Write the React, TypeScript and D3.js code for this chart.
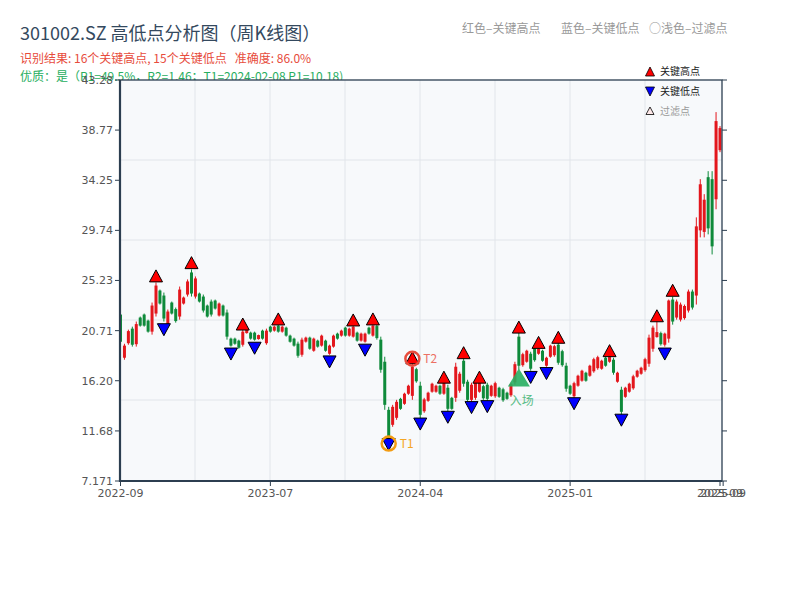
import React from 'react'
import * as d3 from 'd3'

// weekly candles (price units)
const open = [
  22.16, 18.27, 19.58, 20.89, 19.49, 21.89, 22.16, 21.61, 20.62, 22.25,
  24.32, 23.87, 21.25, 23.24, 22.65, 21.98, 23.15, 23.96, 25.95, 23.78,
  24.05, 23.78, 22.97, 23.33, 23.42, 22.07, 22.97, 22.34, 19.99, 19.99,
  19.81, 19.44, 20.49, 20.53, 20.53, 19.95, 20.71, 19.58, 21.07, 20.71,
  21.16, 20.62, 20.98, 20.26, 19.99, 19.54, 18.54, 19.72, 20.08, 18.90,
  19.81, 19.36, 19.81, 18.63, 19.27, 20.44, 20.26, 20.98, 20.26, 20.17,
  20.53, 19.81, 19.72, 20.98, 20.26, 21.12, 19.90, 17.91, 13.58, 12.23,
  12.86, 14.57, 14.12, 15.03, 14.84, 17.24, 15.75, 13.45, 14.39, 15.21,
  15.21, 15.75, 15.03, 15.57, 14.66, 14.66, 15.30, 18.00, 16.11, 14.48,
  14.66, 15.21, 15.71, 15.84, 14.84, 14.80, 15.57, 15.43, 15.12, 14.89,
  16.06, 20.17, 17.60, 17.91, 18.63, 19.13, 18.63, 18.90, 17.55, 18.36,
  18.50, 19.45, 18.86, 17.55, 15.75, 14.80, 15.75, 16.20, 16.92, 16.65,
  17.05, 17.33, 17.28, 18.27, 17.91, 18.09, 16.11, 15.39, 14.75, 15.21,
  15.52, 16.56, 16.83, 17.15, 17.73, 19.08, 20.13, 20.49, 19.44, 19.99,
  23.51, 21.89, 21.70, 21.84, 22.52, 24.23, 23.87, 29.74, 29.60, 34.53,
  34.35, 32.54, 36.96,
]
const high = [
  22.43, 19.53, 20.80, 21.07, 21.53, 21.98, 22.25, 21.70, 23.24, 25.05,
  24.41, 24.14, 22.61, 23.33, 22.79, 24.68, 23.78, 25.32, 26.22, 25.59,
  24.14, 23.96, 23.06, 23.51, 23.51, 23.24, 23.06, 22.61, 20.08, 20.08,
  19.90, 20.80, 20.89, 20.62, 20.62, 20.35, 20.80, 20.89, 21.16, 21.16,
  21.25, 21.16, 21.07, 20.35, 20.08, 19.72, 20.08, 20.17, 20.17, 20.08,
  19.90, 20.35, 19.90, 19.45, 20.35, 20.53, 20.80, 21.07, 20.98, 21.16,
  20.62, 20.53, 20.53, 21.07, 21.25, 21.25, 20.17, 18.36, 13.85, 14.03,
  14.48, 14.66, 15.12, 15.84, 17.82, 17.37, 16.11, 14.66, 15.21, 16.02,
  15.84, 15.84, 16.11, 15.84, 14.75, 17.82, 17.01, 18.27, 16.29, 16.02,
  16.29, 16.11, 15.84, 16.02, 15.84, 16.11, 15.66, 15.57, 15.21, 16.02,
  17.91, 20.53, 18.72, 18.99, 18.81, 19.27, 19.18, 18.99, 18.36, 19.44,
  19.44, 19.63, 18.99, 17.82, 15.84, 16.11, 16.74, 17.19, 17.01, 17.64,
  18.27, 18.45, 18.09, 18.36, 18.45, 18.27, 17.01, 15.66, 15.66, 16.02,
  16.74, 17.19, 17.46, 18.27, 20.35, 21.16, 21.53, 20.62, 20.53, 23.51,
  23.78, 23.51, 23.24, 23.06, 24.41, 24.41, 30.91, 34.35, 33.00, 35.07,
  35.07, 40.39, 39.13,
]
const low = [
  19.44, 18.09, 19.44, 19.27, 19.27, 21.07, 21.07, 20.53, 20.35, 21.98,
  23.06, 21.53, 21.07, 22.16, 21.43, 21.70, 23.06, 23.78, 23.78, 23.60,
  23.24, 22.34, 21.89, 21.98, 22.61, 21.98, 21.98, 19.90, 19.27, 19.44,
  19.08, 19.27, 20.44, 19.90, 19.81, 19.90, 19.90, 19.44, 20.53, 20.62,
  20.53, 20.53, 20.17, 19.63, 19.27, 18.27, 18.36, 19.63, 18.99, 18.81,
  19.18, 19.27, 18.81, 18.54, 19.18, 19.90, 20.17, 20.17, 20.17, 20.08,
  19.72, 19.72, 19.63, 20.35, 20.17, 19.90, 16.92, 13.58, 10.87, 12.05,
  12.68, 13.58, 14.03, 14.93, 14.48, 16.02, 12.77, 13.31, 14.30, 15.12,
  15.12, 14.93, 14.93, 13.40, 13.58, 14.30, 15.12, 15.66, 14.30, 14.30,
  14.48, 15.12, 14.48, 14.39, 14.75, 14.66, 14.66, 14.30, 14.48, 14.75,
  15.84, 17.19, 17.46, 17.82, 17.10, 17.91, 18.54, 17.91, 17.46, 18.27,
  18.36, 17.64, 17.46, 15.21, 14.93, 14.66, 15.66, 16.11, 16.11, 16.56,
  16.92, 17.19, 17.19, 17.46, 17.82, 16.74, 16.02, 13.13, 14.66, 15.12,
  15.39, 16.47, 16.74, 17.01, 17.46, 18.81, 20.08, 19.36, 19.27, 19.63,
  21.25, 21.70, 21.53, 21.70, 22.34, 22.61, 23.06, 29.11, 29.11, 29.38,
  27.57, 31.64, 36.78,
]
const close = [
  19.71, 19.36, 20.67, 19.44, 21.30, 21.16, 21.16, 20.62, 22.97, 24.77,
  23.15, 21.80, 22.43, 22.25, 21.57, 24.41, 23.69, 25.14, 24.05, 25.41,
  23.33, 22.52, 21.98, 22.16, 22.70, 23.15, 22.07, 20.17, 19.36, 19.53,
  19.17, 20.62, 20.84, 19.99, 19.90, 20.31, 19.99, 20.71, 20.62, 21.07,
  20.62, 21.07, 20.26, 19.71, 19.36, 18.45, 19.90, 20.08, 19.08, 19.99,
  19.27, 20.26, 18.90, 19.36, 20.26, 19.99, 20.71, 20.26, 20.89, 21.07,
  19.81, 20.44, 20.44, 20.44, 21.16, 20.04, 17.19, 14.03, 11.14, 13.85,
  14.30, 13.67, 15.03, 15.75, 17.46, 16.15, 13.13, 14.52, 15.12, 15.93,
  15.75, 15.03, 16.02, 13.67, 13.67, 17.46, 16.83, 15.93, 14.48, 15.84,
  16.11, 16.02, 14.62, 14.57, 15.75, 15.98, 14.75, 14.44, 14.57, 15.89,
  17.69, 17.55, 18.59, 18.90, 17.28, 18.05, 19.08, 18.00, 18.27, 19.36,
  19.31, 17.82, 17.60, 15.48, 15.03, 15.98, 16.65, 17.10, 16.20, 17.55,
  18.14, 18.32, 18.00, 17.55, 18.36, 16.92, 16.92, 13.40, 15.57, 15.93,
  16.60, 17.10, 17.37, 18.14, 20.08, 20.98, 20.58, 19.49, 20.44, 23.42,
  21.53, 23.33, 23.06, 22.93, 24.23, 22.79, 30.10, 33.89, 32.50, 29.92,
  28.30, 39.58, 38.95,
]

const keyHighIdx = [9, 18, 31, 40, 59, 64, 74, 82, 87, 91, 101, 106, 111, 124, 136, 140]
const keyLowIdx = [11, 28, 34, 53, 62, 68, 76, 83, 89, 93, 104, 108, 115, 127, 138]
const t1Idx = 68
const t2Idx = 74
const entryIdx = 101
const entryPrice = 16.4

const yTicks = [7.171, 11.68, 16.2, 20.71, 25.23, 29.74, 34.25, 38.77, 43.28]
const yTickLabels = ['7.171', '11.68', '16.20', '20.71', '25.23', '29.74', '34.25', '38.77', '43.28']
const xTickIdx = [0, 38, 76, 114, 152, 152.8]
const xTickLabels = ['2022-09', '2023-07', '2024-04', '2025-01', '2025-09', '2025-09']

const W = 800
const H = 600
const L = 120
const R = 722
const T = 80
const B = 481
const FONT = '"Noto Sans CJK SC", "DejaVu Sans", sans-serif'
const RED = '#e3161c'
const GREEN = '#0e8a3a'

const upTri = 'M0,-7 L6.5,5 L-6.5,5 Z'
const downTri = 'M0,7 L6.5,-5 L-6.5,-5 Z'

export default function App() {
  const x = d3.scaleLinear().domain([0, open.length - 1]).range([120.5, 720])
  const y = d3.scaleLinear().domain([7.171, 43.28]).range([B, T])
  const axisColor = '#2c3e50'
  const tickColor = '#555'

  const gridX = d3.range(1, 8).map(k => L + k * 75)
  const gridY = d3.range(1, 5).map(k => T + k * 80)

  const hiPos = (i: number) => [x(i), y(high[i] * 1.02)]
  const loPos = (i: number) => [x(i), y(low[i] * 0.97)]
  const [t1x, t1y] = loPos(t1Idx)
  const [t2x, t2y] = hiPos(t2Idx)
  const ex = x(entryIdx)
  const ey = y(entryPrice)

  return (
    <div style={{ position: 'fixed', left: 0, top: 0 }}>
      <svg width={W} height={H} style={{ display: 'block', background: '#fff', fontFamily: FONT }}>
        {/* titles */}
        <text x={20} y={40} fontSize={18} fill="#34495e">301002.SZ 高低点分析图（周K线图）</text>
        <text x={20} y={63} fontSize={12} fill="#e74c3c" style={{ whiteSpace: 'pre' }}>识别结果: 16个关键高点, 15个关键低点   准确度: 86.0%</text>
        <text x={20} y={81} fontSize={12} fill="#27ae60">优质：是（R1=49.5%，R2=1.46；T1=2024-02-08 P1=10.18)</text>
        <text x={462} y={33} fontSize={12} fill="#999">红色–关键高点</text>
        <text x={561} y={33} fontSize={12} fill="#999">蓝色–关键低点</text>
        <text x={649} y={33} fontSize={12} fill="#999">○浅色–过滤点</text>

        {/* plot area */}
        <rect x={L} y={T} width={R - L} height={B - T} fill="#f7f9fb" />
        {gridX.map(gx => (
          <line key={'gx' + gx} x1={gx} x2={gx} y1={T} y2={B} stroke="#e1e5ea" strokeWidth={1} />
        ))}
        {gridY.map(gy => (
          <line key={'gy' + gy} x1={L} x2={R} y1={gy} y2={gy} stroke="#e1e5ea" strokeWidth={1} />
        ))}

        {/* candles */}
        {open.map((o, i) => {
          const c = close[i]
          const col = c >= o ? RED : GREEN
          const top = y(Math.max(o, c))
          const bot = y(Math.min(o, c))
          return (
            <g key={'c' + i}>
              <line x1={x(i)} x2={x(i)} y1={y(high[i])} y2={y(low[i])} stroke={col} strokeWidth={1} />
              <rect x={x(i) - 1.5} y={top} width={3} height={Math.max(1, bot - top)} fill={col} />
            </g>
          )
        })}

        {/* key points */}
        {keyHighIdx.map(i => {
          const [px, py] = hiPos(i)
          return <path key={'h' + i} d={upTri} transform={`translate(${px},${py})`} fill="#ff0000" stroke="#000" strokeWidth={1} />
        })}
        {keyLowIdx.map(i => {
          const [px, py] = loPos(i)
          return <path key={'l' + i} d={downTri} transform={`translate(${px},${py})`} fill="#0000ff" stroke="#000" strokeWidth={1} />
        })}

        {/* T1 / T2 */}
        <circle cx={t1x} cy={t1y} r={7} fill="none" stroke="#f39c12" strokeWidth={2.5} />
        <text x={t1x + 11} y={t1y + 4} fontSize={12} fill="#f5a623">T1</text>
        <circle cx={t2x} cy={t2y} r={7} fill="none" stroke="#e74c3c" strokeWidth={2.5} />
        <text x={t2x + 11} y={t2y + 4} fontSize={12} fill="#ec7063">T2</text>

        {/* entry */}
        <path d="M0,-10 L11,8 L-11,8 Z" transform={`translate(${ex},${ey})`} fill="#27ae60" opacity={0.9} />
        <text x={ex - 9} y={ey + 26} fontSize={12} fill="#3cb371" opacity={0.85}>入场</text>

        {/* legend */}
        <path d="M0,-5 L4.5,4 L-4.5,4 Z" transform="translate(650,72)" fill="#ff0000" stroke="#000" strokeWidth={0.8} />
        <text x={660} y={75} fontSize={10} fill="#222">关键高点</text>
        <path d="M0,5 L4.5,-4 L-4.5,-4 Z" transform="translate(650,91)" fill="#0000ff" stroke="#000" strokeWidth={0.8} />
        <text x={660} y={95} fontSize={10} fill="#222">关键低点</text>
        <path d="M0,-4 L4,3.5 L-4,3.5 Z" transform="translate(650,111)" fill="#fde8e8" stroke="#000" strokeWidth={0.8} />
        <text x={660} y={115} fontSize={10} fill="#999">过滤点</text>

        {/* frame */}
        <rect x={L} y={T} width={R - L} height={B - T} fill="none" stroke={axisColor} strokeWidth={1.3} />
        <line x1={L} x2={L} y1={T} y2={B + 1} stroke={axisColor} strokeWidth={2.2} />
        <line x1={L} x2={R} y1={B} y2={B} stroke={axisColor} strokeWidth={2.2} />

        {/* y axis */}
        {yTicks.map((v, k) => (
          <g key={'yt' + k}>
            <line x1={L - 5} x2={L} y1={y(v)} y2={y(v)} stroke={axisColor} strokeWidth={1} />
            <line x1={R} x2={R + 5} y1={y(v)} y2={y(v)} stroke={axisColor} strokeWidth={1} />
            <text x={L - 7} y={y(v) + 4} fontSize={11} fill={tickColor} textAnchor="end" fontFamily="DejaVu Sans, sans-serif">{yTickLabels[k]}</text>
          </g>
        ))}

        {/* x axis */}
        {xTickIdx.map((v, k) => (
          <g key={'xt' + k}>
            <line x1={x(v)} x2={x(v)} y1={B} y2={B + 5} stroke={axisColor} strokeWidth={1} />
            <text x={x(v)} y={B + 16} fontSize={11} fill={tickColor} textAnchor="middle" fontFamily="DejaVu Sans, sans-serif">{xTickLabels[k]}</text>
          </g>
        ))}
      </svg>
    </div>
  )
}
